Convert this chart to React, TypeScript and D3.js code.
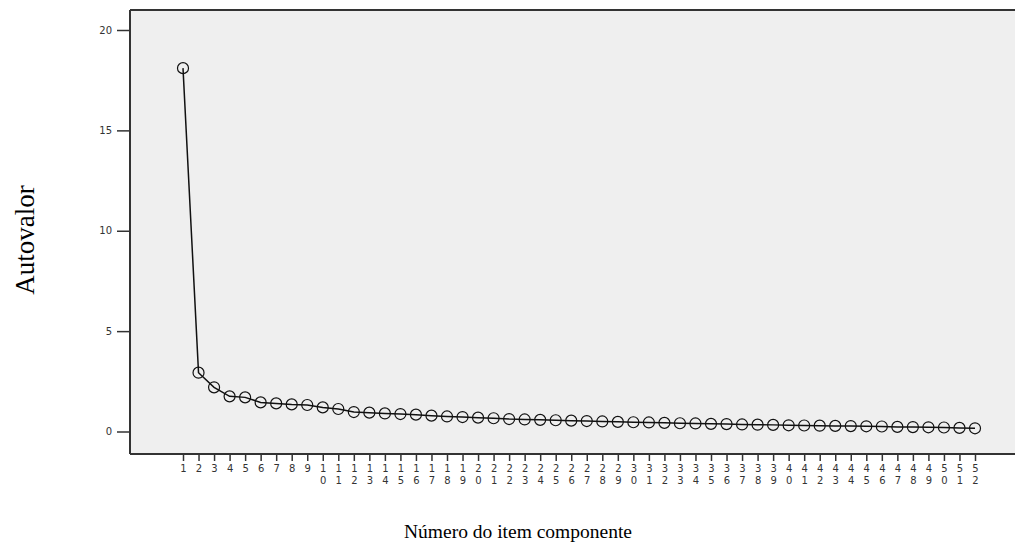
import React, { useEffect, useRef } from 'react';
import { select, scaleLinear, axisLeft, axisBottom, line } from 'd3';

// eigenvalues
const components = Array.from({ length: 52 }, (_, i) => i + 1);
const eigenvalues = [
    18.1, 2.93, 2.2, 1.75, 1.7, 1.45, 1.4, 1.35, 1.32, 1.2,
    1.12, 0.97, 0.94, 0.9, 0.87, 0.84, 0.79, 0.75, 0.72, 0.69,
    0.66, 0.62, 0.6, 0.58, 0.56, 0.54, 0.52, 0.5, 0.48, 0.46,
    0.45, 0.43, 0.41, 0.4, 0.38, 0.37, 0.35, 0.34, 0.33, 0.31,
    0.3, 0.29, 0.28, 0.27, 0.26, 0.25, 0.23, 0.22, 0.21, 0.2,
    0.18, 0.16
];
const yTicks = [0, 5, 10, 15, 20];
const yTitle = 'Autovalor';
const xTitle = 'Número do item componente';

const ScreePlot: React.FC = () => {
    const svgRef = useRef<SVGSVGElement>(null);

    useEffect(() => {
        if (!svgRef.current) return;
        const width = 1015;
        const height = 548;
        const svg = select(svgRef.current);
        svg.attr('width', width).attr('height', height).html('');

        const frame = { left: 130, top: 10, right: width, bottom: 454 };

        const x = scaleLinear().domain([1, 52]).range([183, 975]);
        const y = scaleLinear().domain([0, 20]).range([431.5, 30]);

        // plot background
        svg.append('rect')
            .attr('x', frame.left)
            .attr('y', frame.top)
            .attr('width', frame.right - frame.left)
            .attr('height', frame.bottom - frame.top)
            .style('fill', '#efefef');

        svg.append('line')
            .attr('x1', frame.left).attr('x2', frame.right)
            .attr('y1', frame.top).attr('y2', frame.top)
            .style('stroke', '#333').style('stroke-width', 2);

        // y axis
        const yAxis = svg.append('g')
            .attr('transform', `translate(${frame.left}, 0)`)
            .call(axisLeft(y).tickValues(yTicks).tickSize(13).tickPadding(5));
        yAxis.select('.domain').remove();
        yAxis.selectAll('line').style('stroke', '#333').style('stroke-width', 1.5);
        yAxis.selectAll('text')
            .style('font-family', 'DejaVu Sans, sans-serif')
            .style('font-size', '10px')
            .style('fill', '#333');
        svg.append('line')
            .attr('x1', frame.left).attr('x2', frame.left)
            .attr('y1', frame.top).attr('y2', frame.bottom)
            .style('stroke', '#333').style('stroke-width', 2);

        // x axis, two-digit labels stacked
        const xAxis = svg.append('g')
            .attr('transform', `translate(0, ${frame.bottom})`)
            .call(axisBottom(x).tickValues(components).tickSize(7).tickFormat(() => ''));
        xAxis.select('.domain').remove();
        xAxis.selectAll('line').style('stroke', '#333').style('stroke-width', 1.5);
        xAxis.selectAll('.tick').each(function (d: any) {
            const s = String(d);
            const t = select(this).append('text')
                .attr('text-anchor', 'middle')
                .style('font-family', 'DejaVu Sans, sans-serif')
                .style('font-size', '10px')
                .style('fill', '#333');
            s.split('').forEach((ch, i) => {
                t.append('tspan').attr('x', 0).attr('y', 18 + i * 12).text(ch);
            });
        });
        svg.append('line')
            .attr('x1', frame.left).attr('x2', frame.right)
            .attr('y1', frame.bottom).attr('y2', frame.bottom)
            .style('stroke', '#333').style('stroke-width', 2);

        // line + markers
        const pts = components.map((c, i) => [c, eigenvalues[i]] as [number, number]);
        svg.append('path')
            .datum(pts)
            .attr('d', line<[number, number]>().x(d => x(d[0])).y(d => y(d[1])))
            .style('fill', 'none')
            .style('stroke', '#111')
            .style('stroke-width', 1.5);
        svg.selectAll('circle.pt')
            .data(pts)
            .enter()
            .append('circle')
            .attr('class', 'pt')
            .attr('cx', d => x(d[0]))
            .attr('cy', d => y(d[1]))
            .attr('r', 5.5)
            .style('fill', 'none')
            .style('stroke', '#111')
            .style('stroke-width', 1.2);

        // titles
        svg.append('text')
            .attr('transform', `translate(34, 240) rotate(-90)`)
            .attr('text-anchor', 'middle')
            .style('font-family', 'Liberation Serif, serif')
            .style('font-size', '27px')
            .style('fill', '#000')
            .text(yTitle);
        svg.append('text')
            .attr('x', 518)
            .attr('y', 538)
            .attr('text-anchor', 'middle')
            .style('font-family', 'Liberation Serif, serif')
            .style('font-size', '19.5px')
            .style('fill', '#000')
            .text(xTitle);
    }, []);

    return <svg ref={svgRef} style={{ position: 'absolute', left: 0, top: 0, display: 'block' }}></svg>;
};

export default function App() {
    return <ScreePlot />;
}
